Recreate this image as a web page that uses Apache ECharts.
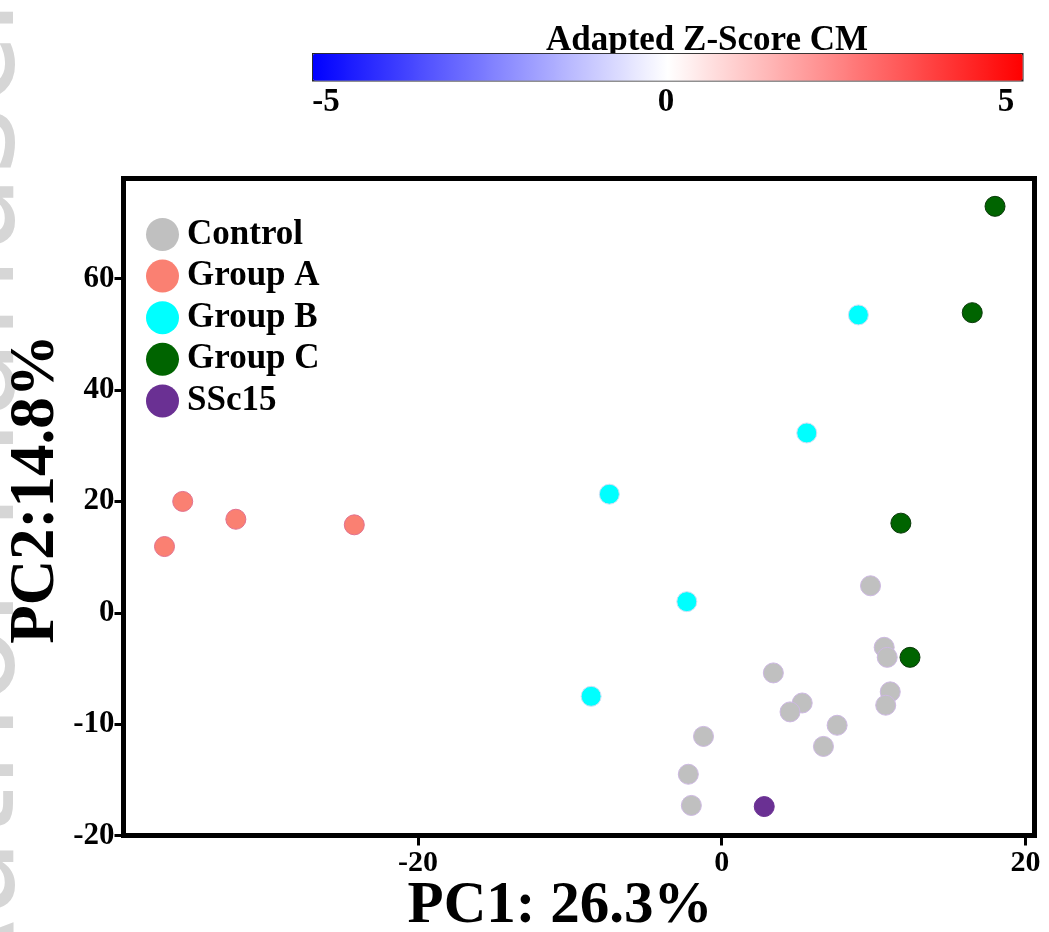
<!DOCTYPE html>
<html>
<head>
<meta charset="utf-8">
<title>PCA</title>
<script src="https://cdn.jsdelivr.net/npm/echarts@6/dist/echarts.min.js"></script>
<style>
  html, body { margin: 0; padding: 0; background: #fff; }
  #main { width: 1049px; height: 932px; }
</style>
</head>
<body>
<div id="main"></div>
<script>
// PC1 / PC2 scores
var controlPts = [[9.8, 4.85], [10.7, -3.1], [10.9, -4.0], [3.4, -5.4], [11.1, -7.1], [10.8, -8.3],
  [5.3, -8.1], [4.5, -8.9], [7.6, -10.1], [6.7, -12.0], [-1.2, -11.1], [-2.2, -14.5], [-2.0, -17.3]];
var groupAPts = [[-35.5, 20.0], [-32.0, 16.8], [-24.2, 15.8], [-36.7, 11.9]];
var groupBPts = [[9.0, 53.5], [5.6, 32.3], [-7.4, 21.3], [-2.3, 2.0], [-8.6, -7.5]];
var groupCPts = [[18.0, 73.0], [16.5, 53.9], [11.8, 16.1], [12.4, -4.0]];
var ssc15Pts = [[2.8, -17.4]];

var groupNames = ["Control", "Group A", "Group B", "Group C", "SSc15"];
var xTicks = [-20, 0, 20];
var yTicks = [-20, -10, 0, 20, 40, 60];
var colorbarTicks = [-5, 0, 5];

var serif = "'Liberation Serif', 'Times New Roman', serif";

// y axis is broken: below 0 one tick step is 10, above 0 it is 20
function yFwd(v) { return v < 0 ? v * 2 : v; }
function yBack(v) { return v < 0 ? v / 2 : v; }
function pts(arr) {
  return arr.map(function (p) { return [p[0], yFwd(p[1])]; });
}

var chart = echarts.init(document.getElementById("main"));

function mkSeries(name, data, color, border) {
  return {
    name: name,
    type: "scatter",
    data: pts(data),
    symbolSize: 20,
    itemStyle: { color: color, borderColor: border, borderWidth: 1, opacity: 1 },
    emphasis: { disabled: true }
  };
}

chart.setOption({
  animation: false,
  backgroundColor: "#fff",
  grid: [
    {
      left: 123.5, right: 14.5, top: 178.5, bottom: 96.5,
      outerBoundsMode: "none", containLabel: false,
      show: true, borderColor: "#000", borderWidth: 5, backgroundColor: "transparent"
    },
    { left: 326, width: 680, top: 53, height: 27, show: false, outerBoundsMode: "none", containLabel: false }
  ],
  visualMap: {
    type: "continuous",
    seriesIndex: [],
    min: -5, max: 5,
    orient: "horizontal",
    left: 312, top: 53,
    itemWidth: 27, itemHeight: 710,
    padding: 0,
    calculable: false,
    borderColor: "#222", borderWidth: 1.5,
    inRange: { color: ["#0000ff", "#ffffff", "#ff0000"] }
  },
  legend: {
    data: groupNames,
    orient: "vertical",
    left: 141, top: 212,
    icon: "circle",
    itemWidth: 33, itemHeight: 33,
    itemGap: 6.6,
    selectedMode: false,
    itemStyle: { borderWidth: 0 },
    textStyle: { fontFamily: serif, fontWeight: "bold", fontSize: 35, color: "#000", padding: [0, 0, 0, 3] }
  },
  xAxis: [
    {
      type: "value",
      min: -39.4, max: 20.6,
      name: "PC1: 26.3%",
      nameLocation: "middle",
      nameGap: 42,
      nameMoveOverlap: false,
      nameTextStyle: { fontFamily: serif, fontWeight: "bold", fontSize: 59, color: "#000", padding: [0, 38, 0, 0] },
      splitLine: { show: false },
      axisLine: { show: false, onZero: false },
      axisTick: { show: true, customValues: xTicks, length: 10, lineStyle: { color: "#000", width: 3 } },
      axisLabel: { customValues: xTicks, margin: 13, fontFamily: serif, fontWeight: "bold", fontSize: 30, color: "#000" }
    },
    {
      type: "value",
      gridIndex: 1,
      min: -5, max: 5, interval: 5,
      splitLine: { show: false },
      axisLine: { show: false, onZero: false },
      axisTick: { show: false },
      axisLabel: {
        margin: 6, fontFamily: serif, fontWeight: "bold", fontSize: 33, color: "#000",
        customValues: colorbarTicks
      }
    }
  ],
  yAxis: [
    {
      type: "value",
      min: -40, max: 78,
      name: "PC2:14.8%",
      nameLocation: "middle",
      nameGap: 55,
      nameMoveOverlap: false,
      nameTextStyle: { fontFamily: serif, fontWeight: "bold", fontSize: 63, color: "#000", padding: [0, 0, 0, 36] },
      splitLine: { show: false },
      axisLine: { show: false, onZero: false },
      axisTick: { show: true, customValues: yTicks.map(yFwd), length: 9, lineStyle: { color: "#000", width: 3 } },
      axisLabel: {
        customValues: yTicks.map(yFwd), margin: 9,
        fontFamily: serif, fontWeight: "bold", fontSize: 31, color: "#000",
        formatter: function (v) { return String(yBack(v)); }
      }
    },
    { type: "value", gridIndex: 1, show: false, min: 0, max: 1 }
  ],
  graphic: [
    {
      // faint watermark running up the left edge
      type: "text", x: 44, y: 1010, rotation: Math.PI / 2, silent: true, z: -1,
      style: { text: "Author Manuscript", font: "130px 'DejaVu Sans', sans-serif", fill: "#d6d6d6",
        align: "left", verticalAlign: "bottom" }
    },
    {
      type: "text", x: 707, y: 23,
      style: { text: "Adapted Z-Score CM", font: "bold 35px " + serif, fill: "#000", align: "center" }
    }
  ],
  series: [
    mkSeries(groupNames[0], controlPts, "#c0c0c0", "#cdb8e2"),
    mkSeries(groupNames[1], groupAPts, "#fa8072", "#e2708e"),
    mkSeries(groupNames[2], groupBPts, "#00ffff", "#cfe0f5"),
    mkSeries(groupNames[3], groupCPts, "#006400", "#0b3a0b"),
    mkSeries(groupNames[4], ssc15Pts, "#6a3093", "#6a3093")
  ]
});
</script>
</body>
</html>
